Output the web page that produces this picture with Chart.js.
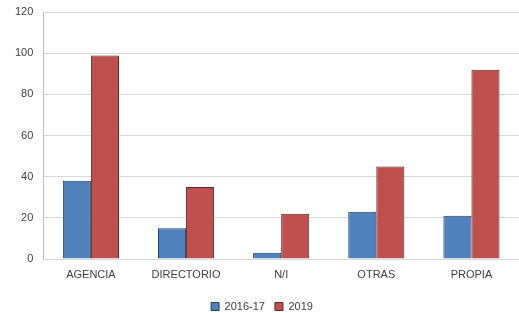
<!DOCTYPE html>
<html lang="es">
<head>
    <meta charset="UTF-8">
    <title>Grafico</title>
    <script src="https://cdn.jsdelivr.net/npm/chart.js"></script>
    <style>
        body { margin: 0; background: #fff; }
        .grafico { position: relative; width: 519px; height: 313px; }
    </style>
</head>
<body>
    <div class="grafico">
        <canvas id="myChart"></canvas>
    </div>

<script>
    // datos
    const categorias = ['AGENCIA', 'DIRECTORIO', 'N/I', 'OTRAS', 'PROPIA'];
    const serie2016 = [38, 15, 3, 23, 21];
    const serie2019 = [99, 35, 22, 45, 92];
    const ticksY = [0, 20, 40, 60, 80, 100, 120];

    const fuente = { family: 'Liberation Sans, Arial, sans-serif', size: 11 };

    const data = {
        labels: categorias,
        datasets: [
            {
                label: '2016-17',
                data: serie2016,
                backgroundColor: '#4F81BD',
                borderColor: '#2a3f5a',
                borderWidth: 1
            },
            {
                label: '2019',
                data: serie2019,
                backgroundColor: '#C0504D',
                borderColor: '#5a2625',
                borderWidth: 1
            }
        ]
    };

    const config = {
        type: 'bar',
        data: data,
        options: {
            responsive: true,
            maintainAspectRatio: false,
            animation: false,
            categoryPercentage: 0.59,
            barPercentage: 1,
            layout: { padding: { top: 0, right: 0, left: 5, bottom: -9 } },
            plugins: {
                tooltip: { enabled: false },
                legend: {
                    position: 'bottom',
                    labels: {
                        boxWidth: 8,
                        boxHeight: 8,
                        padding: 10,
                        color: '#404040',
                        font: fuente
                    }
                }
            },
            scales: {
                x: {
                    grid: { display: false, drawTicks: false },
                    border: { display: false },
                    ticks: { color: '#404040', font: fuente, padding: 9 },
                    afterFit: (axis) => { axis.height = 32; }
                },
                y: {
                    min: ticksY[0],
                    max: ticksY[ticksY.length - 1],
                    afterBuildTicks: (axis) => { axis.ticks = ticksY.map(v => ({ value: v })); },
                    grid: { color: '#d9d9d9', drawTicks: false },
                    border: { color: '#bfbfbf' },
                    // lineHeight bajo para no empujar el area hacia abajo
                    ticks: { color: '#404040', font: { family: fuente.family, size: 11, lineHeight: 0.4 }, padding: 10 }
                }
            }
        }
    };

    const myChart = new Chart(document.getElementById('myChart'), config);
</script>
</body>
</html>
